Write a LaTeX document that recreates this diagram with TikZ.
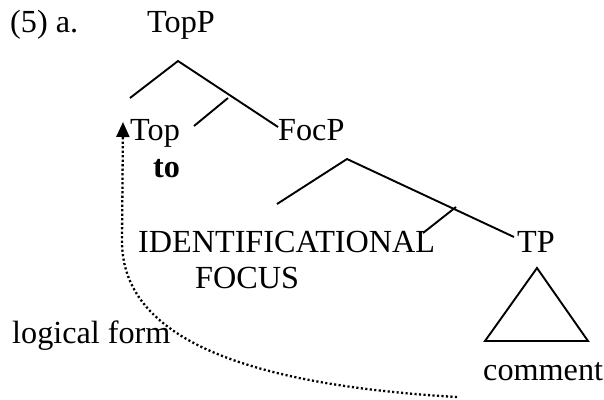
\documentclass[tikz,border=0pt]{standalone}
\usepackage{fontspec}
\setmainfont{Liberation Serif}
\usetikzlibrary{arrows.meta}
\begin{document}
\begin{tikzpicture}[x=1pt,y=-1pt,
  lbl/.style={anchor=base west,inner sep=0pt,font=\fontsize{32.2}{36}\selectfont},
  branch/.style={line width=1.9pt},
  movearrow/.style={line width=2.3pt,dash pattern=on 2.1pt off 2.4pt,-{Triangle[length=15pt,width=13pt]}}]
\useasboundingbox (0,0) rectangle (604,399);
\node[lbl] (ex) at (10,32) {(5) a.};
\node[lbl] (topp) at (147,32) {TopP};
\node[lbl] (top) at (130,140) {Top};
\node[lbl] (to) at (153,177) {\bfseries to};
\node[lbl] (focp) at (278,140) {FocP};
\node[lbl] (idf) at (138,252) {IDENTIFICATIONAL};
\node[lbl] (focus) at (195,288) {FOCUS};
\node[lbl] (tp) at (517,252) {TP};
\node[lbl] (lf) at (12,343) {logical form};
\node[lbl] (comment) at (483,380) {comment};
% TopP tree
\coordinate (a1) at (178,61);
\coordinate (a1l) at (130,98);
\coordinate (a1r) at (278,127);
\coordinate (b1l) at (194,126);
\coordinate (b1r) at (228,98);
\draw[branch] (a1l) -- (a1) -- (a1r);
\draw[branch] (b1l) -- (b1r);
% FocP tree
\coordinate (a2) at (347,159);
\coordinate (a2l) at (277,204);
\coordinate (a2r) at (514,237);
\coordinate (b2l) at (423,233);
\coordinate (b2r) at (456,207);
\draw[branch] (a2l) -- (a2) -- (a2r);
\draw[branch] (b2l) -- (b2r);
% triangle
\coordinate (t1) at (537,268);
\coordinate (t2) at (485,341);
\coordinate (t3) at (588,341);
\draw[branch,line join=miter] (t1) -- (t2) -- (t3) -- cycle;
% movement arrow
\coordinate (mstart) at (457,397);
\coordinate (mbend) at (122,240);
\coordinate (mtip) at (123,122);
\draw[movearrow] (mstart) .. controls (250,385) and (121,340) .. (mbend) -- (mtip);
\end{tikzpicture}
\end{document}
